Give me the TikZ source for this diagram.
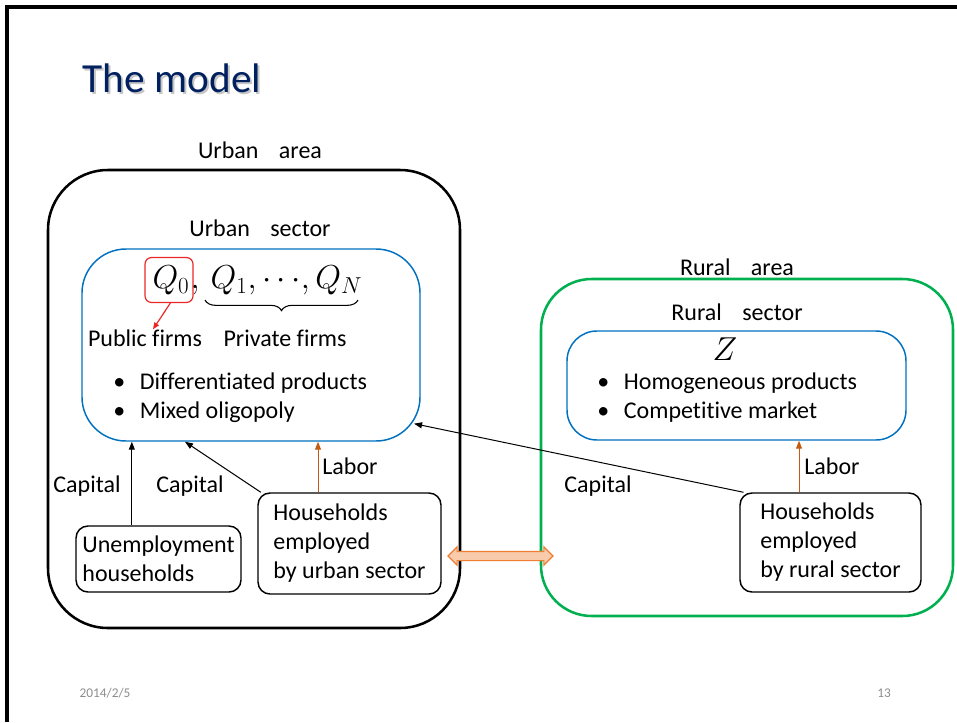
\documentclass[tikz,border=0pt]{standalone}
\usepackage{fontspec}
\setmainfont{Carlito}[Ligatures=NoCommon]
\usepackage{amsmath}
\usetikzlibrary{arrows.meta,shapes.arrows,positioning,decorations.pathreplacing}

\definecolor{titleblue}{RGB}{0,32,96}
\definecolor{sectorblue}{RGB}{0,112,192}
\definecolor{areagreen}{RGB}{0,176,80}
\definecolor{laborbrown}{RGB}{197,90,17}
\definecolor{flowfill}{RGB}{248,203,173}
\definecolor{flowedge}{RGB}{237,125,49}
\definecolor{pubred}{RGB}{235,40,40}
\definecolor{footgray}{RGB}{140,140,140}

\newcommand{\itm}{\makebox[20pt][l]{\textbullet}}
\newcommand{\gap}{\hspace{0.85em}}

\begin{document}
\begin{tikzpicture}[x=0.75pt,y=-0.75pt,
  font=\fontsize{18}{21.75}\selectfont,
  txt/.style={inner sep=0pt},
  mathtxt/.style={txt,font=\fontsize{23}{25}\selectfont},
  area_box/.style={draw,line width=1.9pt,rounded corners=45pt},
  sector_box/.style={draw=sectorblue,line width=1.1pt,rounded corners=33pt},
  house_box/.style={draw,line width=1.1pt,rounded corners=9pt,align=left,inner sep=2pt},
  pub_box/.style={draw=pubred,line width=0.9pt,rounded corners=5pt,inner sep=0pt,
    minimum width=36pt,minimum height=33.75pt},
  cap_arrow/.style={-{Triangle[length=6pt,width=4.5pt]},line width=0.75pt},
  lab_arrow/.style={cap_arrow,draw=laborbrown,-{Triangle[length=6pt,width=4.5pt,fill=laborbrown]}},
  flow_arrow/.style={shape=double arrow,draw=flowedge,fill=flowfill,line width=0.9pt,
    inner sep=0pt,minimum height=78.75pt,double arrow head extend=3.4pt}]

\useasboundingbox (0,0) rectangle (957,722);

% slide frame
\draw[line width=2.4pt] (7,722) -- (7,7) -- (957,7);

% title
\node[txt,gray!45,font=\fontsize{31}{36}\selectfont] (title_shadow) at (174,80) {The model};
\node[txt,titleblue,font=\fontsize{31}{36}\selectfont] (title) at (172,78) {The model};

% urban side
\node[txt] (urban_label) at (260,150) {Urban\gap area};
\node[area_box,minimum width=309pt,minimum height=343.5pt] (urban_area) at (254,399) {};
\node[txt] (usector_label) at (260,228) {Urban\gap sector};
\node[sector_box,minimum width=253.5pt,minimum height=144pt] (urban_sector) at (251,345) {};

\node[pub_box,mathtxt,inner sep=0pt] (q0) at (169,280) {\hspace{3pt}$Q_0$};
\node[mathtxt,anchor=base west] (qrest) at ([xshift=-2.5pt]q0.base east)
  {$,\,Q_1,{\cdots},Q_N$};
\coordinate (br_l) at (205,300);
\coordinate (br_r) at (358,300);
\draw[line width=0.8pt,decorate,decoration={brace,mirror,amplitude=8pt}] (br_l) -- (br_r);
\node[txt] (public) at (145,338) {Public firms};
\node[txt] (private) at (285,338) {Private firms};
\node[txt,anchor=west,align=left] (u_items) at (113,398)
  {\itm Differentiated products\\ \itm Mixed oligopoly};

\node[house_box,minimum width=123.75pt,minimum height=49.5pt] (unemp) at (158.5,559)
  {Unemployment\\households};
\node[house_box,minimum width=137.25pt,minimum height=75.75pt] (hh_urban) at (349.5,543.5)
  {Households\\employed\\by urban sector};

\node[txt] (cap_a) at (87,486) {Capital};
\node[txt] (cap_b) at (190,486) {Capital};
\node[txt] (lab_a) at (350,466) {Labor};

% rural side
\node[txt] (rural_label) at (737,267) {Rural\gap area};
\node[area_box,draw=areagreen,rounded corners=38pt,minimum width=309pt,minimum height=252.75pt]
  (rural_area) at (747,447.5) {};
\node[txt] (rsector_label) at (737,312) {Rural\gap sector};
\node[sector_box,rounded corners=22.5pt,minimum width=254.25pt,minimum height=81.75pt]
  (rural_sector) at (736.5,385.5) {};
\node[mathtxt] (z) at (725,349) {$Z$};
\node[txt,anchor=west,align=left] (r_items) at (597,398)
  {\itm Homogeneous products\\ \itm Competitive market};

\node[house_box,minimum width=135.75pt,minimum height=74.25pt] (hh_rural) at (830.5,542.5)
  {Households\\employed\\by rural sector};

\node[txt] (cap_c) at (598,486) {Capital};
\node[txt] (lab_b) at (832,466) {Labor};

% flows
\coordinate (ue_top) at ([xshift=-20pt]unemp.north);
\coordinate (hu_top) at ([xshift=-23.6pt]hh_urban.north);
\coordinate (hr_top) at ([xshift=-23.6pt]hh_rural.north);

\draw[pubred,line width=0.9pt,-{Triangle[length=5pt,width=4pt]}] ([xshift=1pt]q0.south) -- ([xshift=6pt]public.north);
\draw[cap_arrow] (ue_top) -- (ue_top |- urban_sector.south);
\draw[cap_arrow] (hh_urban.150) -- ([xshift=-49.5pt]urban_sector.south);
\draw[lab_arrow] (hu_top) -- (hu_top |- urban_sector.south);
\draw[lab_arrow] (hr_top) -- (hr_top |- rural_sector.south);
\draw[cap_arrow] (hh_rural.150) -- ([xshift=-5pt,yshift=-59pt]urban_sector.east);

\node[flow_arrow] (flow) at (500.5,556) {\rule{0pt}{6pt}};

% footer
\node[txt,footgray,font=\fontsize{10}{12}\selectfont] (date) at (105,693) {2014/2/5};
\node[txt,footgray,font=\fontsize{10}{12}\selectfont] (page) at (884,693) {13};

\end{tikzpicture}
\end{document}
